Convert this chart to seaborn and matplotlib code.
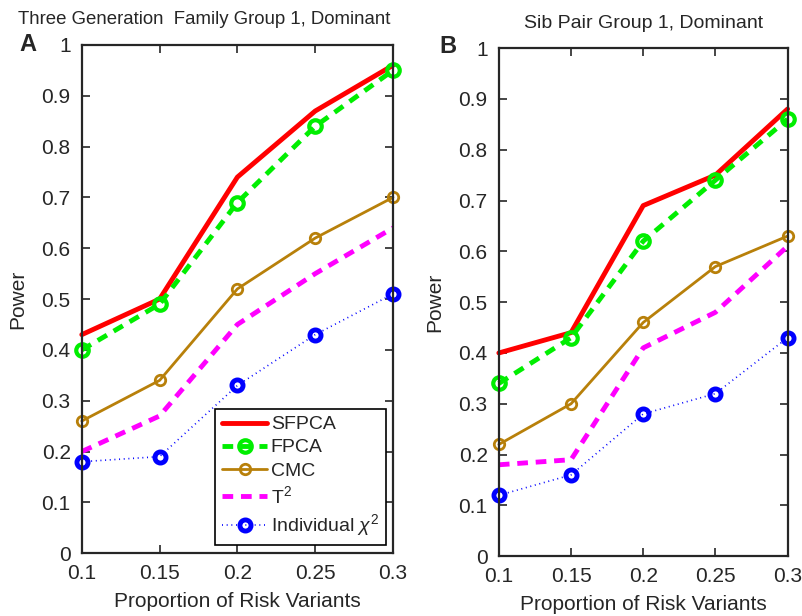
import matplotlib
matplotlib.use("Agg")
import matplotlib.pyplot as plt
import seaborn as sns
import pandas as pd

sns.set_style("ticks")
plt.rcParams['font.family'] = ['Liberation Sans', 'DejaVu Sans']
plt.rcParams['mathtext.fontset'] = 'custom'
plt.rcParams['mathtext.rm'] = 'Liberation Sans'
plt.rcParams['mathtext.it'] = 'Liberation Sans:italic'

proportions = [0.1, 0.15, 0.2, 0.25, 0.3]
methods = ["SFPCA", "FPCA", "CMC", "T$^2$", "Individual $\\chi^2$"]

a_sfpca = [0.43, 0.50, 0.74, 0.87, 0.96]
a_fpca = [0.40, 0.49, 0.69, 0.84, 0.95]
a_cmc = [0.26, 0.34, 0.52, 0.62, 0.70]
a_t2 = [0.20, 0.27, 0.45, 0.55, 0.64]
a_indiv = [0.18, 0.19, 0.33, 0.43, 0.51]

b_sfpca = [0.40, 0.44, 0.69, 0.75, 0.88]
b_fpca = [0.34, 0.43, 0.62, 0.74, 0.86]
b_cmc = [0.22, 0.30, 0.46, 0.57, 0.63]
b_t2 = [0.18, 0.19, 0.41, 0.48, 0.61]
b_indiv = [0.12, 0.16, 0.28, 0.32, 0.43]

styles = [
    dict(color="#ff0000", lw=3.5, ls="-", marker=None),
    dict(color="#00ee00", lw=3.5, ls=(0, (2.2, 1.6)), marker="o", ms=9, mfc="none", mew=3),
    dict(color="#b8800a", lw=2, ls="-", marker="o", ms=7.5, mfc="none", mew=2),
    dict(color="#ff00ff", lw=3.5, ls=(0, (2.2, 1.6)), marker=None),
    dict(color="#0000ff", lw=1.2, ls=(0, (0.6, 2.2)), marker="o", ms=8, mfc="none", mew=3.5),
]

fig = plt.figure(figsize=(8.02, 6.16), dpi=100)
axA = fig.add_axes([0.102, 0.102, 0.388, 0.825])
axB = fig.add_axes([0.622, 0.097, 0.360, 0.825])

def draw(ax, series, legend=False):
    for name, vals, st in zip(methods, series, styles):
        df = pd.DataFrame({"x": proportions, "y": vals})
        kw = dict(color=st["color"], linewidth=st["lw"], linestyle=st["ls"], label=name)
        if st["marker"]:
            kw.update(marker=st["marker"], markersize=st["ms"], markerfacecolor=st["mfc"],
                      markeredgecolor=st["color"], markeredgewidth=st["mew"])
        sns.lineplot(data=df, x="x", y="y", ax=ax, legend=False, **kw)
    ax.set_xlim(0.1, 0.3)
    ax.set_ylim(0, 1)
    ax.set_xticks(proportions)
    ax.set_xticklabels(["0.1", "0.15", "0.2", "0.25", "0.3"])
    ax.set_yticks([i / 10 for i in range(11)])
    ax.set_yticklabels(["0"] + [f"0.{i}" for i in range(1, 10)] + ["1"])
    ax.tick_params(direction="in", top=True, right=True, labelsize=15, length=6, width=1.2, pad=8)
    for s in ax.spines.values():
        s.set_linewidth(1.6)
        s.set_visible(True)
    ax.set_xlabel("Proportion of Risk Variants", fontsize=15, labelpad=6)
    ax.set_ylabel("Power", fontsize=15, labelpad=10)
    for ln in ax.get_lines():
        ln.set_clip_on(False)
    if legend:
        leg = ax.legend(loc="lower right", bbox_to_anchor=(0.977, 0.016), fontsize=14,
                        frameon=True, fancybox=False, edgecolor="black", framealpha=1,
                        handlelength=2.3, handletextpad=0.2, borderpad=0.35,
                        labelspacing=0.28, borderaxespad=0)
        leg.get_frame().set_linewidth(1.2)

draw(axA, [a_sfpca, a_fpca, a_cmc, a_t2, a_indiv], legend=True)
draw(axB, [b_sfpca, b_fpca, b_cmc, b_t2, b_indiv])

fig.text(0.254, 0.969, "Three Generation  Family Group 1, Dominant", ha="center", va="center", fontsize=13.4)
fig.text(0.802, 0.962, "Sib Pair Group 1, Dominant", ha="center", va="center", fontsize=14)
fig.text(0.035, 0.927, "A", ha="center", va="center", fontsize=17, fontweight="bold")
fig.text(0.558, 0.925, "B", ha="center", va="center", fontsize=17, fontweight="bold")

fig.savefig("out.png", dpi=100)
